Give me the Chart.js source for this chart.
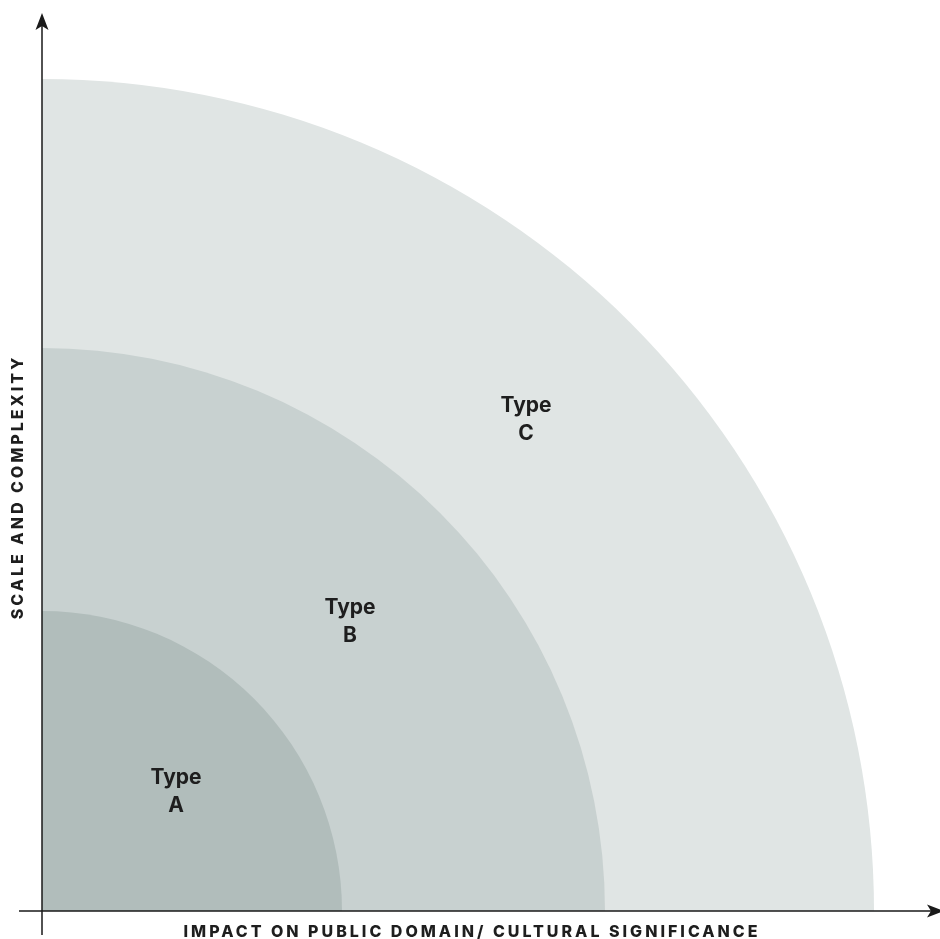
<!DOCTYPE html>
<html lang="en">
<head>
    <meta charset="UTF-8">
    <title>Project Types</title>
    <style>
        html, body { margin: 0; padding: 0; background: #ffffff; }
        .chart-container { width: 940px; height: 939px; }
    </style>
</head>
<body>
    <div class="chart-container"><canvas id="typeChart"></canvas></div>

    <script src="https://cdn.jsdelivr.net/npm/chart.js"></script>
    <script>
        // zones, drawn as quarter circles from the origin (1 unit = 1px on both axes)
        const zoneNames = ['A', 'B', 'C'];
        const zoneRadius = [300, 563, 832];
        const zoneColors = ['#b1bdbb', '#c8d1d0', '#e0e5e4'];
        // label centres, same units as the axes
        const labelX = [134, 308, 484];
        const labelY = [119, 289, 491];
        const xTitle = 'IMPACT ON PUBLIC DOMAIN/ CULTURAL SIGNIFICANCE';
        const yTitle = 'SCALE AND COMPLEXITY';

        const axesPlugin = {
            id: 'axes',
            afterDatasetsDraw(chart) {
                const ctx = chart.ctx;
                const x0 = chart.scales.x.getPixelForValue(0);
                const y0 = chart.scales.y.getPixelForValue(0);
                const area = chart.chartArea;
                ctx.save();

                // zone labels
                ctx.fillStyle = '#1e1e1e';
                ctx.font = 'bold 21px Inter, "DejaVu Sans", sans-serif';
                ctx.textAlign = 'center';
                ctx.textBaseline = 'middle';
                zoneNames.forEach((n, i) => {
                    const px = chart.scales.x.getPixelForValue(labelX[i]);
                    const py = chart.scales.y.getPixelForValue(labelY[i]);
                    ctx.fillText('Type', px, py - 14);
                    ctx.fillText(n, px, py + 14);
                });

                // axis lines
                ctx.strokeStyle = '#1a1a1a';
                ctx.lineWidth = 1.5;
                ctx.beginPath();
                ctx.moveTo(x0, y0 + 24);
                ctx.lineTo(x0, area.top + 4);
                ctx.moveTo(x0 - 23, y0);
                ctx.lineTo(area.right, y0);
                ctx.stroke();

                // arrow heads
                ctx.fillStyle = '#1a1a1a';
                ctx.beginPath();
                ctx.moveTo(x0, area.top);
                ctx.lineTo(x0 + 6.5, area.top + 17);
                ctx.lineTo(x0, area.top + 13);
                ctx.lineTo(x0 - 6.5, area.top + 17);
                ctx.closePath();
                ctx.fill();
                ctx.beginPath();
                ctx.moveTo(area.right + 6, y0);
                ctx.lineTo(area.right - 11, y0 - 6.5);
                ctx.lineTo(area.right - 7, y0);
                ctx.lineTo(area.right - 11, y0 + 6.5);
                ctx.closePath();
                ctx.fill();

                // axis titles
                ctx.fillStyle = '#1e1e1e';
                ctx.font = '800 16px Inter, "DejaVu Sans", sans-serif';
                ctx.letterSpacing = '3px';
                ctx.textBaseline = 'middle';
                ctx.fillText(xTitle, 472, y0 + 21);
                ctx.translate(18, 487);
                ctx.rotate(-Math.PI / 2);
                ctx.fillText(yTitle, 0, 0);
                ctx.restore();
            }
        };

        const chart = new Chart(document.getElementById('typeChart').getContext('2d'), {
            type: 'bubble',
            data: {
                datasets: zoneNames.map((n, i) => ({
                    label: 'Type ' + n,
                    data: [{ x: 0, y: 0, r: zoneRadius[i] }],
                    backgroundColor: zoneColors[i],
                    borderWidth: 0,
                    clip: 0
                }))
            },
            options: {
                responsive: true,
                maintainAspectRatio: false,
                animation: false,
                events: [],
                layout: { autoPadding: false, padding: { left: 42, right: 2, top: 13, bottom: 28 } },
                plugins: { legend: { display: false }, tooltip: { enabled: false } },
                scales: {
                    x: { type: 'linear', min: 0, max: 896, display: false },
                    y: { type: 'linear', min: 0, max: 898, display: false }
                }
            },
            plugins: [axesPlugin]
        });
    </script>
</body>
</html>
